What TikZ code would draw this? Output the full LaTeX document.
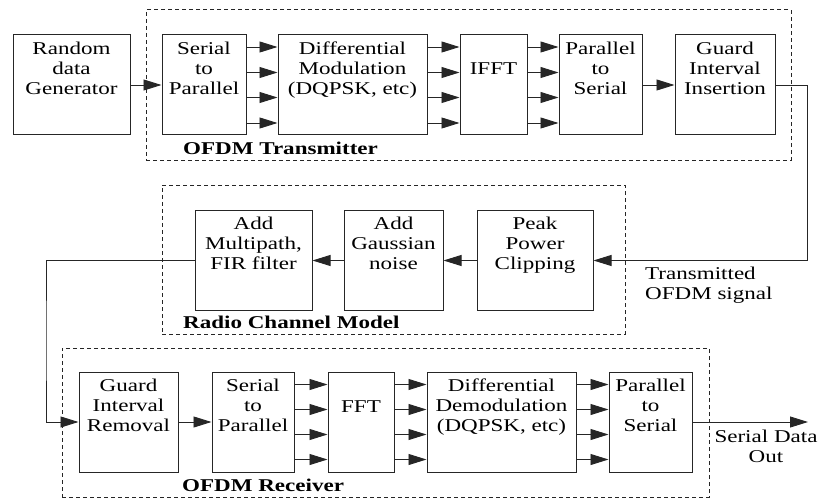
\documentclass[tikz,border=0pt]{standalone}
\usepackage{fontspec}
\setmainfont{Liberation Serif}[FakeStretch=1.28]
\usetikzlibrary{arrows.meta}
\begin{document}
\begin{tikzpicture}[x=1pt,y=-1pt,
  box/.style={draw=black!85, line width=1pt, inner sep=0pt, minimum height=100pt},
  grp/.style={draw=black!85, line width=1pt, dash pattern=on 4pt off 3pt, inner sep=0pt},
  txt/.style={align=center, inner sep=0pt, anchor=base, font=\fontsize{18}{20}\selectfont},
  ttl/.style={inner sep=0pt, anchor=base west, font=\fontsize{18}{20}\selectfont\bfseries},
  arr/.style={draw=black!85, line width=0.9pt, -{Triangle[length=18pt,width=11pt]}}]
\useasboundingbox (0,0) rectangle (819,500);

% ---------------- group frames ----------------
\node[grp, minimum width=645pt, minimum height=150pt] (txgrp) at (468.5,85) {};
\node[grp, minimum width=463pt, minimum height=149pt] (chgrp) at (393.5,259.5) {};
\node[grp, minimum width=647pt, minimum height=149pt] (rxgrp) at (385.5,422.5) {};

% ---------------- transmitter row ----------------
% three-line labels: the base anchor sits on the last line
\node[box, minimum width=117pt] (rand) at (71.5,85) {};
\node[box, minimum width=84pt]  (s2p)  at (204,85) {};
\node[box, minimum width=149pt] (mod)  at (352.5,85) {};
\node[box, minimum width=67pt]  (ifft) at (493.5,85) {};
\node[box, minimum width=83pt]  (p2s)  at (600.5,85) {};
\node[box, minimum width=100pt] (gii)  at (725,85) {};

\node[txt] (randT) at ([yshift=-60pt]rand.north) {Random\\data\\Generator};
\node[txt] (s2pT)  at ([yshift=-60pt]s2p.north)  {Serial\\to\\Parallel};
\node[txt] (modT)  at ([yshift=-60pt]mod.north)  {Differential\\Modulation\\(DQPSK, etc)};
\node[txt] (ifftT) at ([yshift=-40pt]ifft.north) {IFFT};
\node[txt] (p2sT)  at ([yshift=-60pt]p2s.north)  {Parallel\\to\\Serial};
\node[txt] (giiT)  at ([yshift=-60pt]gii.north)  {Guard\\Interval\\Insertion};
\node[ttl] (txT) at (183,154) {OFDM Transmitter};

% ---------------- channel row ----------------
\node[box, minimum width=117pt] (fir)   at (253.5,260.5) {};
\node[box, minimum width=99pt]  (noise) at (393.5,260.5) {};
\node[box, minimum width=116pt] (peak)  at (535,260.5) {};

\node[txt] (firT)   at ([yshift=-59pt]fir.north)   {Add\\Multipath,\\FIR filter};
\node[txt] (noiseT) at ([yshift=-59pt]noise.north) {Add\\Gaussian\\noise};
\node[txt] (peakT)  at ([yshift=-59pt]peak.north)  {Peak\\Power\\Clipping};
\node[ttl] (chT) at (183,328) {Radio Channel Model};
\node[txt, align=left, anchor=base west] (sigT) at (645,299) {Transmitted\\OFDM signal};

% ---------------- receiver row ----------------
\node[box, minimum width=99pt]  (gir)   at (128.5,422) {};
\node[box, minimum width=82pt]  (s2p2)  at (253,422) {};
\node[box, minimum width=66pt]  (fft)   at (361,422) {};
\node[box, minimum width=149pt] (demod) at (501.5,422) {};
\node[box, minimum width=83pt]  (p2s2)  at (650.5,422) {};

\node[txt] (girT)   at ([yshift=-60pt]gir.north)   {Guard\\Interval\\Removal};
\node[txt] (s2p2T)  at ([yshift=-60pt]s2p2.north)  {Serial\\to\\Parallel};
\node[txt] (fftT)   at ([yshift=-41pt]fft.north)   {FFT};
\node[txt] (demodT) at ([yshift=-60pt]demod.north) {Differential\\Demodulation\\(DQPSK, etc)};
\node[txt] (p2s2T)  at ([yshift=-60pt]p2s2.north)  {Parallel\\to\\Serial};
\node[ttl] (rxT) at (182,491) {OFDM Receiver};
\node[txt] (outT) at (766,462) {Serial Data\\Out};

% ---------------- connectors ----------------
\coordinate (txturn) at (807.5,172);
\coordinate (rxturn) at (46,340);
\coordinate (dataout) at (808,422);

\draw[arr] (rand.east) -- (s2p.west);
\foreach \d in {38,12.5,-12.5,-38} {
  \draw[arr] ([yshift=\d pt]s2p.east)  -- ([yshift=\d pt]mod.west);
  \draw[arr] ([yshift=\d pt]mod.east)  -- ([yshift=\d pt]ifft.west);
  \draw[arr] ([yshift=\d pt]ifft.east) -- ([yshift=\d pt]p2s.west);
}
\draw[arr] (p2s.east) -- (gii.west);
\draw[arr] (gii.east) -| (txturn) |- (peak.east);

\draw[arr] (peak.west) -- (noise.east);
\draw[arr] (noise.west) -- (fir.east);
\draw[arr] (fir.west) -| (rxturn) |- (gir.west);

\draw[arr] (gir.east) -- (s2p2.west);
\foreach \d in {37.5,12.5,-12.5,-37.5} {
  \draw[arr] ([yshift=\d pt]s2p2.east)  -- ([yshift=\d pt]fft.west);
  \draw[arr] ([yshift=\d pt]fft.east)   -- ([yshift=\d pt]demod.west);
  \draw[arr] ([yshift=\d pt]demod.east) -- ([yshift=\d pt]p2s2.west);
}
\draw[arr] (p2s2.east) -- (dataout);
\end{tikzpicture}
\end{document}
